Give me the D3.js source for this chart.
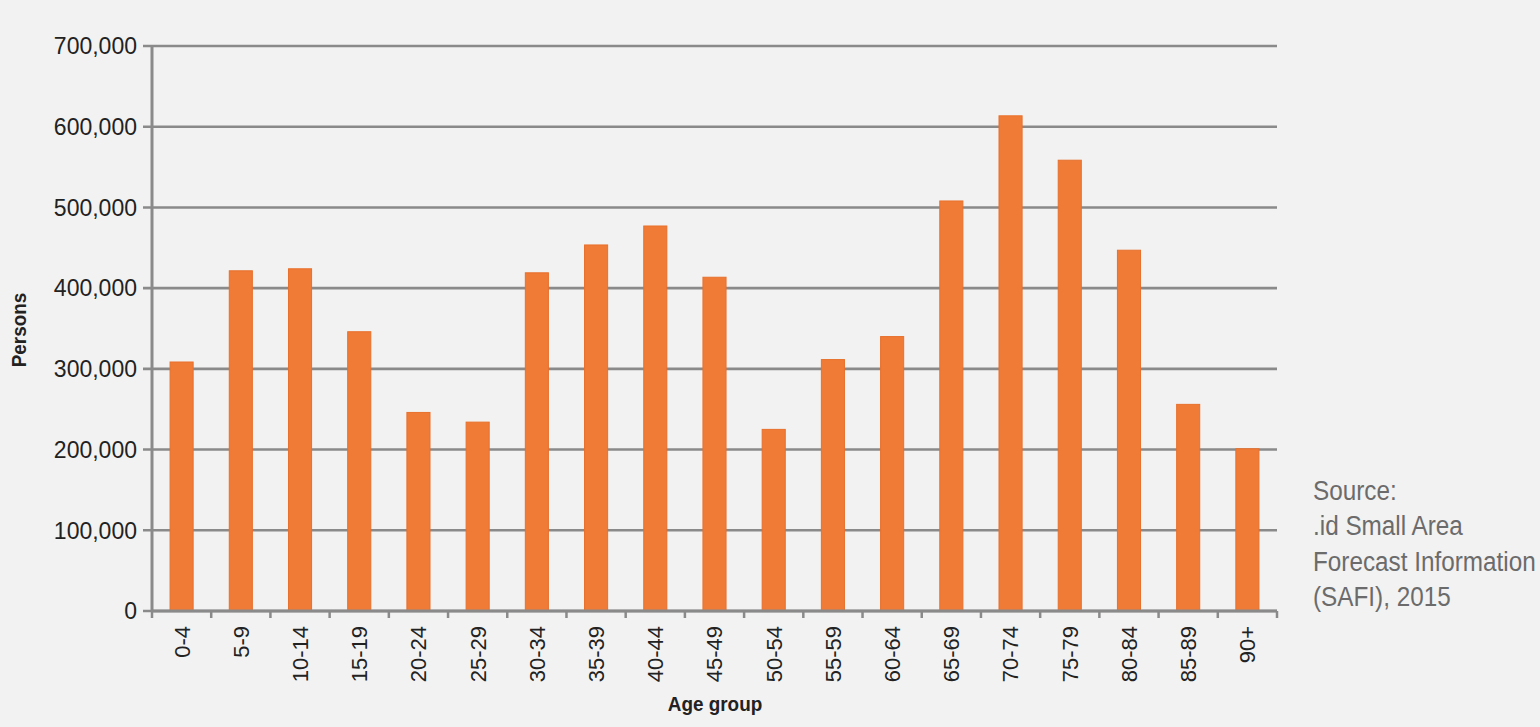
<!DOCTYPE html>
<html>
<head>
<meta charset="utf-8">
<script src="https://cdn.jsdelivr.net/npm/d3@7"></script>
<style>
  body { margin: 0; background: #f2f2f2; }
  svg { display: block; }
</style>
</head>
<body>
<script>
const width = 1540;
const height = 727;

// Dati
const ageGroups = ['0-4', '5-9', '10-14', '15-19', '20-24', '25-29', '30-34', '35-39', '40-44',
  '45-49', '50-54', '55-59', '60-64', '65-69', '70-74', '75-79', '80-84', '85-89', '90+'];
const persons = [308500, 421500, 424000, 346000, 246000, 234000, 419000, 453500, 477000,
  413500, 225000, 311500, 340000, 508000, 613500, 558500, 447000, 256000, 201000];
const yTicks = [0, 100000, 200000, 300000, 400000, 500000, 600000, 700000];
const sourceLines = ['Source:', '.id Small Area', 'Forecast Information', '(SAFI), 2015'];

const plot = { left: 152, right: 1277, top: 46, bottom: 611 };
const font = 'Liberation Sans, Arial, sans-serif';

const svg = d3.select('body').append('svg')
  .attr('width', width)
  .attr('height', height);

svg.append('rect').attr('width', width).attr('height', height).attr('fill', '#f2f2f2');

const x = d3.scaleBand()
  .domain(ageGroups)
  .range([plot.left, plot.right])
  .paddingInner(0.61)
  .paddingOuter(0.305);

const y = d3.scaleLinear()
  .domain([0, 700000])
  .range([plot.bottom, plot.top]);

// Griglia orizzontale
svg.append('g')
  .selectAll('line')
  .data(yTicks)
  .enter()
  .append('line')
  .attr('x1', plot.left - 9)
  .attr('x2', plot.right)
  .attr('y1', d => y(d))
  .attr('y2', d => y(d))
  .attr('stroke', '#8a8a8a')
  .attr('stroke-width', 2.6);

// Etichette asse y
svg.append('g')
  .selectAll('text')
  .data(yTicks)
  .enter()
  .append('text')
  .attr('x', 137)
  .attr('y', d => y(d))
  .attr('dy', '0.36em')
  .attr('text-anchor', 'end')
  .attr('font-family', font)
  .attr('font-size', 23)
  .attr('fill', '#222')
  .text(d => d3.format(',')(d));

// Barre
svg.append('g')
  .selectAll('rect')
  .data(ageGroups)
  .enter()
  .append('rect')
  .attr('x', d => x(d))
  .attr('y', (d, i) => y(persons[i]))
  .attr('width', x.bandwidth())
  .attr('height', (d, i) => plot.bottom - y(persons[i]))
  .attr('fill', '#f07b36')
  .attr('stroke', '#e8702c')
  .attr('stroke-width', 1);

// Asse y verticale
svg.append('line')
  .attr('x1', plot.left).attr('x2', plot.left)
  .attr('y1', plot.top - 1).attr('y2', plot.bottom + 1)
  .attr('stroke', '#8a8a8a')
  .attr('stroke-width', 3);

// Asse x con tacche
const step = x.step();
svg.append('g')
  .selectAll('line')
  .data(d3.range(ageGroups.length + 1))
  .enter()
  .append('line')
  .attr('x1', i => plot.left + i * step)
  .attr('x2', i => plot.left + i * step)
  .attr('y1', plot.bottom)
  .attr('y2', plot.bottom + 7)
  .attr('stroke', '#8a8a8a')
  .attr('stroke-width', 2.5);

svg.append('line')
  .attr('x1', plot.left).attr('x2', plot.right)
  .attr('y1', plot.bottom).attr('y2', plot.bottom)
  .attr('stroke', '#8a8a8a')
  .attr('stroke-width', 3);

// Etichette asse x
svg.append('g')
  .selectAll('text')
  .data(ageGroups)
  .enter()
  .append('text')
  .attr('transform', d => `translate(${x(d) + x.bandwidth() / 2},626) rotate(-90)`)
  .attr('dy', '0.36em')
  .attr('text-anchor', 'end')
  .attr('font-family', font)
  .attr('font-size', 22)
  .attr('fill', '#222')
  .text(d => d);

// Titoli assi (carattere stretto simulato con scala)
svg.append('text')
  .attr('transform', 'translate(18,330) rotate(-90) scale(0.9,1)')
  .attr('dy', '0.36em')
  .attr('text-anchor', 'middle')
  .attr('font-family', font)
  .attr('font-weight', 'bold')
  .attr('font-size', 21)
  .attr('fill', '#222')
  .text('Persons');

svg.append('text')
  .attr('transform', 'translate(715,711) scale(0.9,1)')
  .attr('text-anchor', 'middle')
  .attr('font-family', font)
  .attr('font-weight', 'bold')
  .attr('font-size', 21)
  .attr('fill', '#222')
  .text('Age group');

// Fonte
svg.append('g')
  .attr('transform', 'translate(1313,0) scale(0.9,1)')
  .selectAll('text')
  .data(sourceLines)
  .enter()
  .append('text')
  .attr('x', 0)
  .attr('y', (d, i) => 500 + i * 35.5)
  .attr('font-family', font)
  .attr('font-size', 27)
  .attr('fill', '#6b6b6b')
  .text(d => d);
</script>
</body>
</html>
